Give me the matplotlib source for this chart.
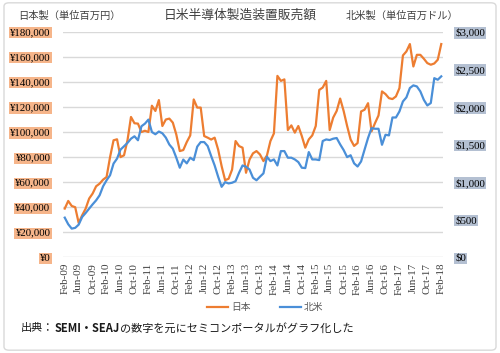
import matplotlib
matplotlib.use("Agg")
import matplotlib.pyplot as plt
from matplotlib.patches import FancyBboxPatch
from matplotlib.lines import Line2D

plt.rcParams['font.family'] = ['Noto Sans CJK JP', 'DejaVu Sans']

# Japan (million yen, in thousands of millions -> stored as 千 million yen /1000)
japan = [38.9, 45.0, 41.0, 40.0, 27.4, 33.6, 38.9, 46.9, 50.9, 56.7, 58.8, 62.0, 64.1,
         80.0, 93.4, 94.2, 80.0, 81.4, 93.4, 112.0, 107.0, 106.7, 100.0, 101.0, 100.0, 121.0, 116.8, 125.5, 104.8,
         110.0, 110.7, 107.5, 98.0, 84.8, 85.6, 92.0, 97.3, 126.0, 119.5, 119.5, 96.8, 95.5, 94.0, 95.5, 86.0,
         72.8, 61.6, 62.7, 70.0, 92.8, 88.8, 87.5, 67.5, 78.0, 83.0, 84.8,
         82.1, 76.8, 81.3, 92.8, 98.9, 144.8, 140.8, 142.0, 101.6, 105.3, 99.5, 104.8, 96.8, 87.5, 94.1, 97.3,
         104.8, 133.6, 135.5, 140.8, 101.6, 111.5, 116.8, 126.7, 116.8, 104.8, 94.0, 88.9,
         91.2, 116.4, 117.8, 123.0, 100.5, 107.1, 113.2, 132.4, 130.3, 127.0, 126.3, 128.4, 135.0, 161.1, 164.3,
         170.2, 152.3, 161.6, 161.6, 158.5, 155.0, 153.7, 154.7, 157.7, 170.2]
japan = [v * 1000 for v in japan]

# North America (million USD)
namerica = [528, 440, 382, 392, 435, 537, 590, 648, 705, 758, 825, 945, 1025,
            1092, 1247, 1313, 1433, 1477, 1522, 1578, 1610, 1557, 1743, 1778, 1832, 1667, 1637, 1673, 1650,
            1592, 1500, 1445, 1325, 1192, 1300, 1250, 1325, 1293, 1472, 1533, 1533, 1480, 1347, 1222, 1072,
            938, 1000, 983, 992, 1013, 1125, 1222, 1205, 1168, 1058, 1025,
            1072, 1117, 1338, 1280, 1302, 1222, 1413, 1413, 1325, 1325, 1302, 1267, 1192, 1187, 1400, 1302,
            1302, 1293, 1547, 1568, 1560, 1578, 1587, 1502, 1427, 1333, 1358, 1250,
            1208, 1275, 1432, 1587, 1718, 1710, 1710, 1497, 1630, 1622, 1860, 1860, 1940, 2073, 2127,
            2252, 2287, 2273, 2207, 2095, 2020, 2052, 2383, 2362, 2407]

tick_labels = ["Feb-09", "Jun-09", "Oct-09", "Feb-10", "Jun-10", "Oct-10", "Feb-11", "Jun-11",
               "Oct-11", "Feb-12", "Jun-12", "Oct-12", "Feb-13", "Jun-13", "Oct-13", "Feb-14",
               "Jun-14", "Oct-14", "Feb-15", "Jun-15", "Oct-15", "Feb-16", "Jun-16", "Oct-16",
               "Feb-17", "Jun-17", "Oct-17", "Feb-18"]
left_ticks = [0, 20000, 40000, 60000, 80000, 100000, 120000, 140000, 160000, 180000]
right_ticks = [0, 500, 1000, 1500, 2000, 2500, 3000]

ORANGE = '#ED7D31'
BLUE = '#4A8FD8'
SERIF = ['Liberation Serif', 'DejaVu Serif']

fig = plt.figure(figsize=(5.0, 3.53), dpi=100)
fig.patches.append(FancyBboxPatch((0.008, 0.008), 0.984, 0.984, boxstyle="round,pad=0,rounding_size=0.01",
                                  transform=fig.transFigure, fill=False, edgecolor='#d9d9d9', lw=1.0))

ax = fig.add_axes([0.126, 0.271, 0.76, 0.639])
ax2 = ax.twinx()

x = list(range(len(japan)))
ax.plot(x, japan, color=ORANGE, lw=1.6, solid_joinstyle='round')
ax2.plot(x, namerica, color=BLUE, lw=1.6, solid_joinstyle='round')

ax.set_xlim(-0.5, len(japan) - 0.5)
ax.set_ylim(0, 180000)
ax2.set_ylim(0, 3000)
ax.set_yticks(left_ticks)
ax2.set_yticks(right_ticks)
ax.set_yticklabels([f"¥{v:,}" for v in left_ticks], fontfamily=SERIF, fontsize=7.8)
ax2.set_yticklabels([f"${v:,}" for v in right_ticks], fontfamily=SERIF, fontsize=7.8)
for t in ax.get_yticklabels():
    t.set_bbox(dict(facecolor='#F6B58A', edgecolor='none', pad=0.8))
for t in ax2.get_yticklabels():
    t.set_bbox(dict(facecolor='#B4C0D2', edgecolor='none', pad=0.8))
ax.set_xticks([i * 4 for i in range(len(tick_labels))])
ax.set_xticklabels(tick_labels, rotation=90, fontfamily=SERIF, fontsize=8, color='#404040')

ax.grid(axis='y', color='#d9d9d9', lw=1.0)
ax.set_axisbelow(True)
for a in (ax, ax2):
    for s in a.spines.values():
        s.set_visible(False)
    a.tick_params(length=0)
ax.tick_params(axis='y', pad=9)
ax2.tick_params(axis='y', pad=9)
ax.tick_params(axis='x', pad=4)

fig.text(0.48, 0.958, "日米半導体製造装置販売額", ha='center', va='center', fontsize=9.2, color='#404040')
fig.text(0.036, 0.955, "日本製（単位百万円）", ha='left', va='center', fontsize=7.4, color='#404040')
fig.text(0.692, 0.955, "北米製（単位百万ドル）", ha='left', va='center', fontsize=7.4, color='#404040')

handles = [Line2D([], [], color=ORANGE, lw=1.6), Line2D([], [], color=BLUE, lw=1.6)]
fig.legend(handles, ["日本", "北米"], loc='center', bbox_to_anchor=(0.53, 0.13), ncol=2, frameon=False,
           fontsize=7, labelcolor='#595959', handlelength=2.2, handletextpad=0.3, columnspacing=3.0)

# caption with bold portion
pieces = [("出典：", 'normal'), ("SEMI・SEAJ", 'bold'), ("の数字を元にセミコンポータルがグラフ化した", 'normal')]
fig.canvas.draw()
renderer = fig.canvas.get_renderer()
xpos = 0.042
for s, w in pieces:
    t = fig.text(xpos, 0.07, s, ha='left', va='center', fontsize=8, fontweight=w, color='#1a1a1a')
    bb = t.get_window_extent(renderer=renderer)
    xpos += bb.width / fig.bbox.width

fig.savefig("out.png", dpi=100)
